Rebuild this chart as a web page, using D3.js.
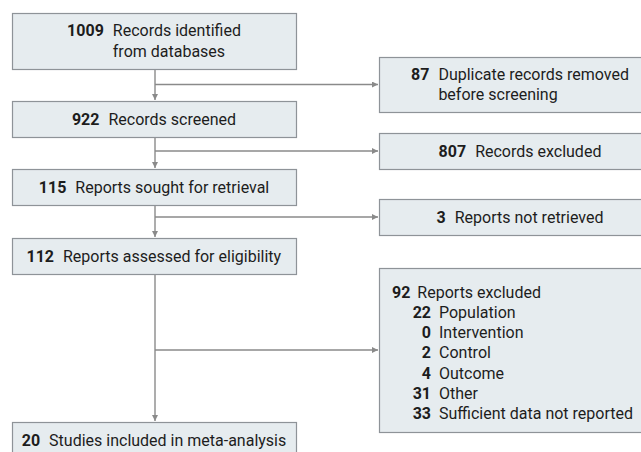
<!DOCTYPE html>
<html>
<head>
<meta charset="utf-8">
<script src="https://cdn.jsdelivr.net/npm/d3@7"></script>
<style>
  body { margin: 0; background: #fff; }
  svg text { font-family: Roboto, "Noto Sans", sans-serif; fill: #1d1d1d; }
</style>
</head>
<body>
<div id="flow"></div>
<script>
// main path boxes (left column)
var mainCounts = [1009, 922, 115, 112, 20];
var mainLabels = [
    ['Records identified', 'from databases'],
    ['Records screened'],
    ['Reports sought for retrieval'],
    ['Reports assessed for eligibility'],
    ['Studies included in meta-analysis']
];

// side boxes (right column)
var sideCounts = [87, 807, 3, 92];
var sideLabels = [
    ['Duplicate records removed', 'before screening'],
    ['Records excluded'],
    ['Reports not retrieved'],
    ['Reports excluded']
];

// exclusion reasons
var reasonCounts = [22, 0, 2, 4, 31, 33];
var reasonLabels = ['Population', 'Intervention', 'Control', 'Outcome', 'Other', 'Sufficient data not reported'];

var width = 641,
    height = 452;

var svg = d3.select('#flow')
    .append('svg')
    .attr('width', width)
    .attr('height', height);

var fill = '#e6ecef',
    stroke = '#8e9398',
    lineColor = '#8a8a8a',
    fontSize = 16,
    lineGap = 20.3;

// layout
var mainX = 12, mainW = 284;
var sideX = 379, sideW = 282;
var stemX = 155;
var mainTop = [13, 101, 169, 238, 422];
var mainH = [56, 36, 36, 36, 36];
var sideTop = [57, 133, 199, 268];
var sideH = [55, 36, 36, 164];

svg.append('defs').append('marker')
    .attr('id', 'arrow')
    .attr('viewBox', '0 0 10 10')
    .attr('refX', 10)
    .attr('refY', 5)
    .attr('markerWidth', 7)
    .attr('markerHeight', 6)
    .attr('markerUnits', 'userSpaceOnUse')
    .attr('orient', 'auto')
    .append('path')
    .attr('d', 'M0,0L10,5L0,10z')
    .attr('fill', lineColor);

// vertical connectors between main boxes
d3.range(mainCounts.length - 1).forEach(function(i) {
    svg.append('line')
        .attr('x1', stemX).attr('x2', stemX)
        .attr('y1', mainTop[i] + mainH[i])
        .attr('y2', mainTop[i + 1] - 1)
        .attr('stroke', lineColor)
        .attr('stroke-width', 1.4)
        .attr('marker-end', 'url(#arrow)');
});

// horizontal connectors to side boxes
sideCounts.forEach(function(d, i) {
    var y = sideTop[i] + sideH[i] / 2;
    svg.append('line')
        .attr('x1', stemX).attr('x2', sideX - 1)
        .attr('y1', y).attr('y2', y)
        .attr('stroke', lineColor)
        .attr('stroke-width', 1.4)
        .attr('marker-end', 'url(#arrow)');
});

function drawBox(x, y, w, h) {
    svg.append('rect')
        .attr('x', x + 0.5).attr('y', y + 0.5)
        .attr('width', w).attr('height', h)
        .attr('fill', fill)
        .attr('stroke', stroke)
        .attr('stroke-width', 1.2);
}

// centred box text: bold count, label lines aligned after it
function drawCentered(cx, cy, count, lines) {
    var g = svg.append('g');
    var t = g.append('text').style('font-size', fontSize + 'px');
    var num = t.append('tspan')
        .attr('x', 0)
        .attr('y', 0)
        .style('font-weight', 'bold')
        .text(count);
    var numW = num.node().getComputedTextLength();
    lines.forEach(function(line, j) {
        t.append('tspan')
            .attr('x', numW + 9)
            .attr('y', j * lineGap)
            .text(line);
    });
    var bb = g.node().getBBox();
    var offY = cy - (lines.length - 1) * lineGap / 2 + 5.5;
    g.attr('transform', 'translate(' + (cx - bb.width / 2) + ',' + offY + ')');
}

mainCounts.forEach(function(d, i) {
    drawBox(mainX, mainTop[i], mainW, mainH[i]);
    drawCentered(mainX + mainW / 2, mainTop[i] + mainH[i] / 2, d, mainLabels[i]);
});

sideCounts.forEach(function(d, i) {
    drawBox(sideX, sideTop[i], sideW, sideH[i]);
    if (i < 3) {
        drawCentered(sideX + sideW / 2, sideTop[i] + sideH[i] / 2, d, sideLabels[i]);
    }
});

// exclusion box: header and indented list with right-aligned counts
var listX = 392, listTop = 292 + 5.5, numRight = 431;
var head = svg.append('text')
    .attr('x', listX)
    .attr('y', listTop)
    .style('font-size', fontSize + 'px');
head.append('tspan').style('font-weight', 'bold').text(sideCounts[3]);
head.append('tspan').attr('dx', 7).text(sideLabels[3][0]);

reasonCounts.forEach(function(d, i) {
    var y = listTop + (i + 1) * lineGap;
    svg.append('text')
        .attr('x', numRight).attr('y', y)
        .attr('text-anchor', 'end')
        .style('font-size', fontSize + 'px')
        .style('font-weight', 'bold')
        .text(d);
    svg.append('text')
        .attr('x', numRight + 8).attr('y', y)
        .style('font-size', fontSize + 'px')
        .text(reasonLabels[i]);
});
</script>
</body>
</html>
